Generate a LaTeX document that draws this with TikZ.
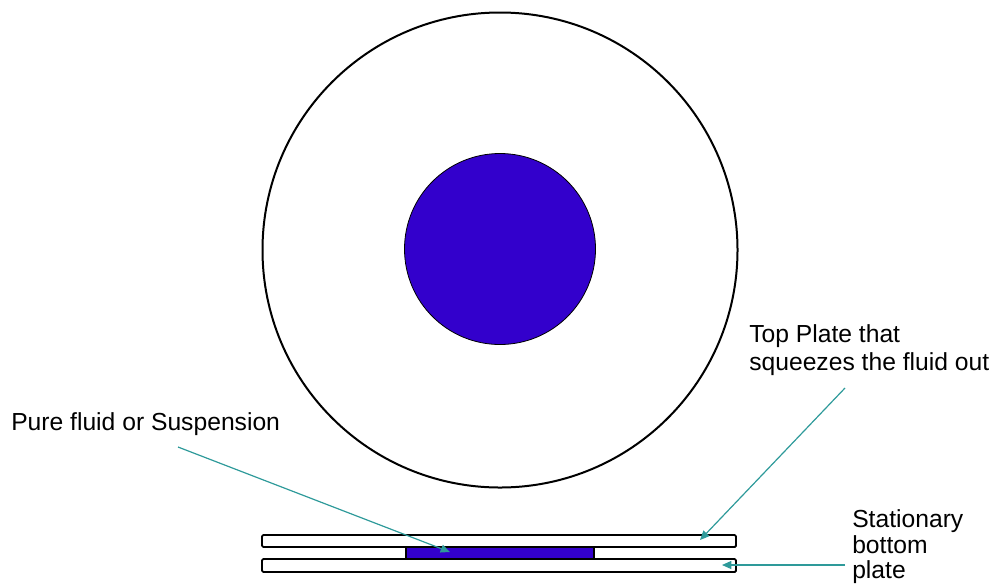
\documentclass[tikz,border=0pt]{standalone}
\usepackage{fontspec}
\setmainfont{Liberation Sans}
\usetikzlibrary{arrows.meta}
\definecolor{fluid}{HTML}{3300CC}
\definecolor{arrowc}{HTML}{2E9A9A}
\begin{document}
\begin{tikzpicture}[x=0.75pt,y=-0.75pt,
  plate/.style={draw=black,line width=1.4pt,fill=white},
  pointer/.style={draw=arrowc,line width=0.9pt,-{Triangle[length=7pt,width=6pt]}},
  lbl/.style={font=\fontsize{18.5}{21}\selectfont,inner sep=0pt,anchor=base west,align=left}]
\useasboundingbox (0,0) rectangle (995,583);
% top view
\node[circle,draw=black,line width=1.5pt,minimum size=356.25pt,inner sep=0pt] (outer) at (500,250) {};
\node[circle,draw=black,line width=0.6pt,fill=fluid,minimum size=143.25pt,inner sep=0pt] (inner) at (500,249) {};
% side view
\fill[fluid] (406,547) rectangle (594,559);
\draw[black,line width=0.8pt] (406,547) -- (406,559) (594,547) -- (594,559);
\draw[plate,rounded corners=1pt] (262,535) rectangle (736,547);
\draw[plate,rounded corners=1pt] (262,559) rectangle (736,572);
\coordinate (fluidpt) at (450,552);
\coordinate (topplatept) at (700,540);
\coordinate (botplatept) at (722,565);
% labels
\node[lbl] (lpure) at (11,430) {Pure fluid or Suspension};
\node[lbl] (ltop1) at (749,342) {Top Plate that};
\node[lbl] (ltop2) at (749,370) {squeezes the fluid out};
\node[lbl] (lst1) at (852,527) {Stationary};
\node[lbl] (lst2) at (852,553) {bottom};
\node[lbl] (lst3) at (852,578) {plate};
\coordinate (s1) at (178,447);
\coordinate (s2) at (845,388);
\coordinate (s3) at (845,565);
\draw[pointer] (s1) -- (fluidpt);
\draw[pointer] (s2) -- (topplatept);
\draw[pointer] (s3) -- (botplatept);
\end{tikzpicture}
\end{document}
